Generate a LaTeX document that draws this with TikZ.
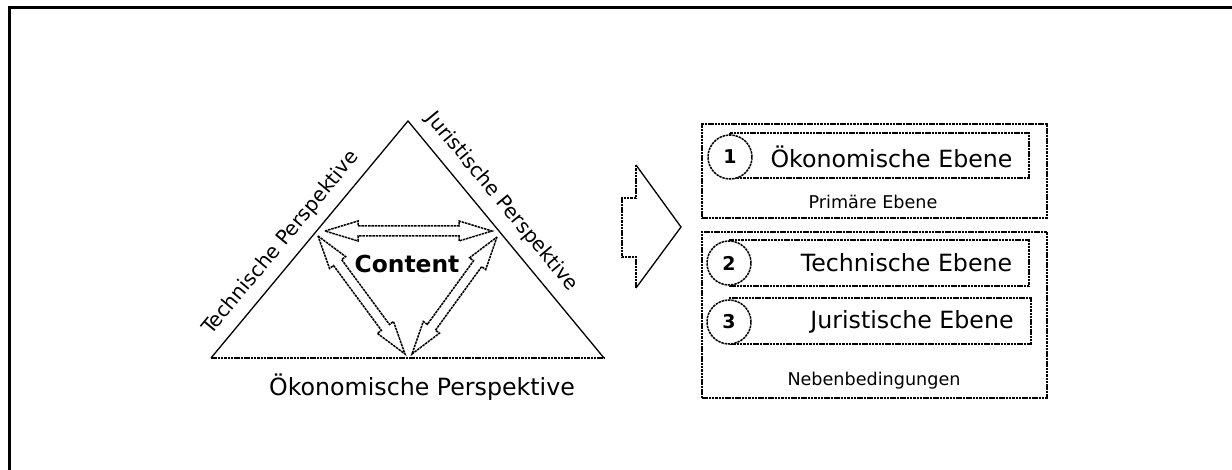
\documentclass[tikz,border=0pt]{standalone}
\usepackage{fontspec}
\setmainfont{DejaVu Sans}
\usetikzlibrary{calc}
\tikzset{
  dotline/.style={line width=1.5pt, dash pattern=on 2.5pt off 0.8pt},
  solidline/.style={line width=1.3pt},
  box/.style={dotline, draw, inner sep=0pt},
  numcircle/.style={dotline, draw, circle, fill=white, minimum size=44pt, inner sep=0pt,
    font=\fontsize{19}{21}\selectfont\bfseries},
  bigtext/.style={font=\fontsize{23.7}{26}\selectfont, inner sep=0pt},
  smalltext/.style={font=\fontsize{17.6}{20}\selectfont, inner sep=0pt},
  sidetext/.style={font=\fontsize{20}{24}\selectfont, inner sep=0pt},
}
\newcommand\hollowarrow[3]{%
  \coordinate (#3p) at ($(#1)!33pt!(#2)$);
  \coordinate (#3q) at ($(#2)!33pt!(#1)$);
  \draw[dotline, line join=miter] (#1) -- ($(#3p)!10pt!90:(#2)$) -- ($(#3p)!5pt!90:(#2)$)
    -- ($(#3q)!5pt!-90:(#1)$) -- ($(#3q)!10pt!-90:(#1)$) -- (#2)
    -- ($(#3q)!10pt!90:(#1)$) -- ($(#3q)!5pt!90:(#1)$)
    -- ($(#3p)!5pt!-90:(#2)$) -- ($(#3p)!10pt!-90:(#2)$) -- cycle;
}
\begin{document}
\begin{tikzpicture}[x=1pt, y=-1pt]
\useasboundingbox (0,0) rectangle (1232,470);
% frame
\draw[line width=3pt] (9.5,470) -- (9.5,7.5) -- (1232,7.5);

% triangle
\coordinate (apex) at (408,121);
\coordinate (bl) at (211,358);
\coordinate (br) at (604,358);
\draw[solidline, line join=miter] (bl) -- (apex) -- (br);
\draw[dotline] (bl) -- (br);

\node[sidetext, rotate=50.3] (tech) at (281,243) {Technische Perspektive};
\node[sidetext, rotate=-50.3] (jur) at (502,202) {Juristische Perspektive};
\node[bigtext] (oek) at (422,387) {Ökonomische Perspektive};
\node[font=\fontsize{23.4}{26}\selectfont\bfseries, inner sep=0pt] (content) at (407,264) {Content};

% hollow double arrows
\coordinate (tA) at (325,231);
\coordinate (tB) at (492,231);
\coordinate (lA) at (318,236);
\coordinate (lB) at (405,354);
\coordinate (rA) at (497,237);
\coordinate (rB) at (412,354);
\hollowarrow{tA}{tB}{t}
\hollowarrow{lA}{lB}{l}
\hollowarrow{rA}{rB}{r}

% block arrow
\draw[dotline] (636,165) -- (636,198) -- (622,198) -- (622,257) -- (636,257) -- (636,288);
\draw[solidline, line join=miter] (636,165) -- (681,227) -- (636,288);

% right boxes
\node[box, minimum width=345pt, minimum height=94pt] (prim) at (874.5,171) {};
\node[box, minimum width=345pt, minimum height=166pt] (neben) at (874.5,315) {};
\node[box, minimum width=299pt, minimum height=45pt] (e1) at (879.5,155.5) {};
\node[box, minimum width=299pt, minimum height=46pt] (e2) at (879.5,263) {};
\node[box, minimum width=301pt, minimum height=46pt] (e3) at (880.5,321) {};
\node[numcircle] (c1) at (730,157) {1};
\node[numcircle] (c2) at (729,263) {2};
\node[numcircle] (c3) at (729,322) {3};
\node[bigtext] (t1) at (891.5,157) {Ökonomische Ebene};
\node[bigtext] (t2) at (906.5,263) {Technische Ebene};
\node[bigtext] (t3) at (912,322) {Juristische Ebene};
\node[smalltext] (tp) at (873,202) {Primäre Ebene};
\node[smalltext] (tn) at (874,381) {Nebenbedingungen};
\end{tikzpicture}
\end{document}
